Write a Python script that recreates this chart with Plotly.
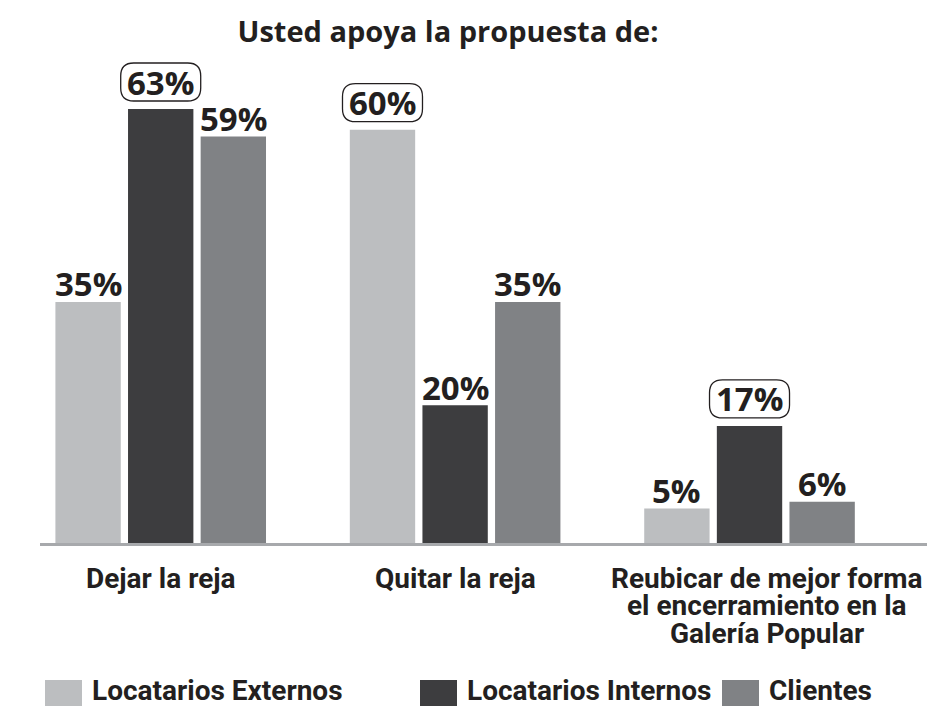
import plotly.graph_objects as go

# ---------------- data ----------------
categories = ["Dejar la reja", "Quitar la reja",
              "Reubicar de mejor forma<br>el encerramiento en la<br>Galería Popular"]
series_names = ["Locatarios Externos", "Locatarios Internos", "Clientes"]
externos = [35, 60, 5]
internos = [63, 20, 17]
clientes = [59, 35, 6]
# which label in each category is highlighted (series index)
highlight = [1, 0, 1]

colors = ["#bcbec0", "#3d3d3f", "#808285"]
values = [externos, internos, clientes]

TEXT = "#231f20"
BOLD_FONT = "'Open Sans', Lato, sans-serif"
NARROW_FONT = "Roboto, 'Liberation Sans', sans-serif"

BARGAP = 0.26
BARGROUPGAP = 0.1
slot = (1 - BARGAP) / len(series_names)

# page offset (browser body margin)
OFF = 8
FIG_W, FIG_H = 935 - OFF, 706 - OFF
Y_MAX = 72
PX_PER_UNIT = 455 / 66
PLOT_L, PLOT_W, PLOT_B = 40, 895, 543  # page pixels
PLOT_H = round(Y_MAX * PX_PER_UNIT)

fig = go.Figure()
xs = list(range(len(categories)))
for k, (name, vals, col) in enumerate(zip(series_names, values, colors)):
    fig.add_trace(go.Bar(x=xs, y=vals, name=name, marker=dict(color=col, line=dict(width=0)),
                         showlegend=False, hoverinfo="skip"))

annotations = []
shapes = []
# value labels
for k, vals in enumerate(values):
    off = (k - (len(series_names) - 1) / 2) * slot
    for i, v in enumerate(vals):
        boxed = highlight[i] == k
        annotations.append(dict(x=i + off, y=v, xref="x", yref="y", text=f"<b>{v}%</b>",
                                showarrow=False, yanchor="middle",
                                yshift=27 if boxed else 18,
                                font=dict(family=BOLD_FONT, size=33, color=TEXT)))
        if boxed:
            w, y0, y1, r = 40, 8, 46, 13
            path = (f"M {-w + r},{y0} L {w - r},{y0} Q {w},{y0} {w},{y0 + r} "
                    f"L {w},{y1 - r} Q {w},{y1} {w - r},{y1} L {-w + r},{y1} "
                    f"Q {-w},{y1} {-w},{y1 - r} L {-w},{y0 + r} Q {-w},{y0} {-w + r},{y0} Z")
            shapes.append(dict(type="path", xref="x", yref="y", xsizemode="pixel",
                               ysizemode="pixel", xanchor=i + off, yanchor=v, path=path,
                               line=dict(color=TEXT, width=1.3), fillcolor="rgba(0,0,0,0)"))

# category labels (one annotation per line for tight line spacing)
cat_xshift = [0, 0, 17]
for i, cat in enumerate(categories):
    for j, line in enumerate(cat.split("<br>")):
        annotations.append(dict(x=i, y=0, xref="x", yref="paper", text=f"<b>{line}</b>",
                                showarrow=False, yanchor="middle",
                                yshift=-35 - 27.5 * j, xshift=cat_xshift[i],
                                font=dict(family=NARROW_FONT, size=28, color=TEXT)))

# custom legend
leg_sq_px = [45, 420, 722]
for name, col, px in zip(series_names, colors, leg_sq_px):
    x0 = (px - PLOT_L) / PLOT_W
    x1 = (px + 37 - PLOT_L) / PLOT_W
    shapes.append(dict(type="rect", xref="paper", yref="paper", x0=x0, x1=x1,
                       y0=(PLOT_B - 706) / PLOT_H, y1=(PLOT_B - 680) / PLOT_H,
                       fillcolor=col, line=dict(width=0)))
    annotations.append(dict(x=(px + 45 - PLOT_L) / PLOT_W, y=(PLOT_B - 690) / PLOT_H,
                            xref="paper", yref="paper", xanchor="left", yanchor="middle",
                            text=f"<b>{name}</b>", showarrow=False,
                            font=dict(family=NARROW_FONT, size=28, color=TEXT)))

fig.update_layout(
    width=FIG_W, height=FIG_H,
    margin=dict(l=PLOT_L - OFF, r=0, t=PLOT_B - PLOT_H - OFF, b=FIG_H - (PLOT_B - OFF)),
    paper_bgcolor="white", plot_bgcolor="white",
    barmode="group", bargap=BARGAP, bargroupgap=BARGROUPGAP,
    title=dict(text="<b>Usted apoya la propuesta de:</b>", x=(448 - OFF) / FIG_W,
               xanchor="center", xref="container", y=1 - (32 - OFF) / FIG_H,
               yanchor="middle", yref="container",
               font=dict(family=BOLD_FONT, size=29, color=TEXT)),
    xaxis=dict(range=[-0.41, 2.63], showticklabels=False, ticks="", showgrid=False,
               zeroline=False, showline=True, linecolor="#a7a9ac", linewidth=3),
    yaxis=dict(range=[0, Y_MAX], visible=False),
    annotations=annotations, shapes=shapes, showlegend=False,
)

fig.write_html("out.html")
